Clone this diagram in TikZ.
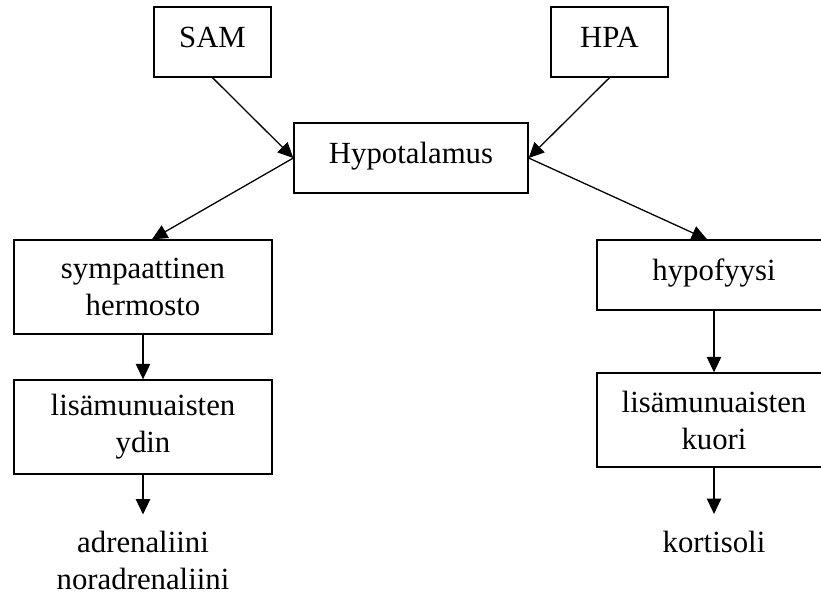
\documentclass[tikz,border=0pt]{standalone}
\usepackage{fontspec}
\setmainfont{Liberation Serif}
\usepackage{tikz}
\usetikzlibrary{arrows.meta,calc}
\tikzset{
  every node/.style={font=\fontsize{12pt}{14.4pt}\selectfont},
  box/.style={draw, line width=0.5pt, align=center, inner sep=0pt},
  onebox/.style={box, minimum height=27.3pt, text height=8pt, text depth=4pt},
  twobox/.style={box, minimum height=36.7pt},
  hormone/.style={align=center},
  arr/.style={line width=0.5pt, -{Triangle[length=6pt,width=5.6pt]}}
}
\begin{document}
\begin{tikzpicture}[x=0.39pt, y=-0.39pt]
\useasboundingbox (0,0) rectangle (821,593);
\clip (0,0) rectangle (821,593);
\node[onebox, minimum width=45.6pt] (sam) at (212.5,42) {SAM};
\node[onebox, minimum width=45.6pt] (hpa) at (609.5,42) {HPA};
\node[onebox, minimum width=91.3pt] (hypo) at (411,158) {Hypotalamus};
\node[twobox, minimum width=100.6pt] (symp) at (143,287) {sympaattinen\\hermosto};
\node[twobox, minimum width=100.6pt] (ydin) at (143,427) {lisämunuaisten\\ydin};
\node[onebox, minimum width=91.3pt] (hypof) at (714,275) {hypofyysi};
\node[twobox, minimum width=91.3pt] (kuori) at (714,420) {lisämunuaisten\\kuori};
\node[hormone] (adren) at (143,560.5) {adrenaliini\\noradrenaliini};
\node[hormone] (kort) at (714,541.5) {kortisoli};
\draw[arr] (sam.south) -- (hypo.west);
\draw[arr] (hpa.south) -- (hypo.east);
\draw[arr] (hypo.west) -- ([xshift=3.5pt]symp.north);
\draw[arr] (hypo.east) -- ([xshift=-2.7pt]hypof.north);
\draw[arr] (symp) -- (ydin);
\draw[arr] (hypof) -- (kuori);
\draw[arr, shorten >=3pt] (ydin) -- (adren);
\draw[arr, shorten >=3pt] (kuori) -- (kort);
\end{tikzpicture}
\end{document}
